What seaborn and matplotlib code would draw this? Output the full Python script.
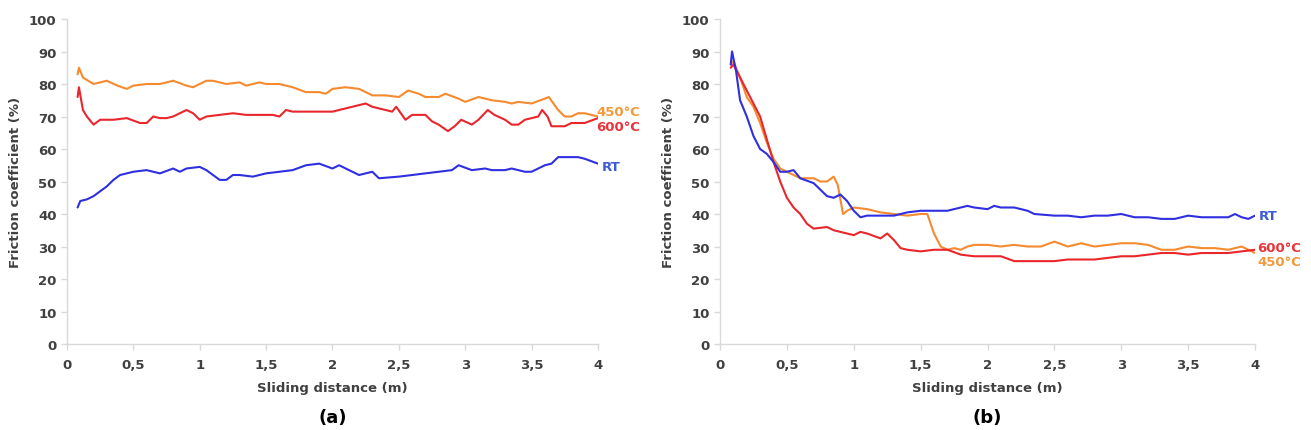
import pandas as pd
import seaborn as sns
import matplotlib.pyplot as plt

sns.set_style("white")
plt.rcParams['font.family'] = ['Liberation Sans Narrow', 'DejaVu Sans']

# panel (a)
a_450_x = [0.08, 0.09, 0.12, 0.2, 0.3, 0.38, 0.45, 0.5, 0.6, 0.7, 0.8, 0.9, 0.95, 1.05, 1.1, 1.2, 1.3,
           1.35, 1.45, 1.5, 1.6, 1.7, 1.8, 1.9, 1.95, 2.0, 2.1, 2.2, 2.3, 2.4, 2.5, 2.57, 2.65, 2.7,
           2.8, 2.85, 2.95, 3.0, 3.1, 3.2, 3.3, 3.35, 3.4, 3.5, 3.6, 3.63, 3.7, 3.75, 3.8, 3.85, 3.9, 4.0]
a_450_y = [83, 85, 82, 80, 81, 79.5, 78.5, 79.5, 80, 80, 81, 79.5, 79, 81, 81, 80, 80.5,
           79.5, 80.5, 80, 80, 79, 77.5, 77.5, 77, 78.5, 79, 78.5, 76.5, 76.5, 76, 78, 77, 76,
           76, 77, 75.5, 74.5, 76, 75, 74.5, 74, 74.5, 74, 75.5, 76, 72, 70, 70, 71, 71, 70]

a_600_x = [0.08, 0.09, 0.12, 0.15, 0.2, 0.25, 0.35, 0.45, 0.55, 0.6, 0.65, 0.7, 0.75, 0.8, 0.9, 0.95,
           1.0, 1.05, 1.15, 1.25, 1.35, 1.45, 1.55, 1.6, 1.65, 1.7, 1.8, 1.9, 2.0, 2.1, 2.2, 2.25,
           2.3, 2.4, 2.45, 2.48, 2.55, 2.6, 2.7, 2.75, 2.8, 2.87, 2.92, 2.97, 3.05, 3.1, 3.17, 3.22,
           3.3, 3.35, 3.4, 3.45, 3.55, 3.58, 3.62, 3.65, 3.75, 3.8, 3.9, 4.0]
a_600_y = [76, 79, 72, 70, 67.5, 69, 69, 69.5, 68, 68, 70, 69.5, 69.5, 70, 72, 71,
           69, 70, 70.5, 71, 70.5, 70.5, 70.5, 70, 72, 71.5, 71.5, 71.5, 71.5, 72.5, 73.5, 74,
           73, 72, 71.5, 73, 69, 70.5, 70.5, 68.5, 67.5, 65.5, 67, 69, 67.5, 69, 72, 70.5,
           69, 67.5, 67.5, 69, 70, 72, 70, 67, 67, 68, 68, 69.5]

a_rt_x = [0.08, 0.1, 0.15, 0.2, 0.25, 0.3, 0.35, 0.4, 0.5, 0.6, 0.7, 0.8, 0.85, 0.9, 1.0, 1.05,
          1.1, 1.15, 1.2, 1.25, 1.3, 1.4, 1.5, 1.6, 1.7, 1.8, 1.9, 2.0, 2.05, 2.15, 2.2, 2.3,
          2.35, 2.5, 2.6, 2.7, 2.8, 2.9, 2.95, 3.05, 3.15, 3.2, 3.3, 3.35, 3.45, 3.5, 3.6, 3.65,
          3.7, 3.8, 3.85, 3.9, 4.0]
a_rt_y = [42, 44, 44.5, 45.5, 47, 48.5, 50.5, 52, 53, 53.5, 52.5, 54, 53, 54, 54.5, 53.5,
          52, 50.5, 50.5, 52, 52, 51.5, 52.5, 53, 53.5, 55, 55.5, 54, 55, 53, 52, 53,
          51, 51.5, 52, 52.5, 53, 53.5, 55, 53.5, 54, 53.5, 53.5, 54, 53, 53, 55, 55.5,
          57.5, 57.5, 57.5, 57, 55.5]

# panel (b)
b_rt_x = [0.08, 0.09, 0.12, 0.15, 0.2, 0.25, 0.3, 0.35, 0.4, 0.45, 0.5, 0.55, 0.6, 0.7, 0.75,
          0.8, 0.85, 0.9, 0.95, 1.0, 1.05, 1.1, 1.2, 1.3, 1.4, 1.5, 1.6, 1.7, 1.8, 1.85, 1.9,
          2.0, 2.05, 2.1, 2.2, 2.3, 2.35, 2.5, 2.6, 2.7, 2.8, 2.9, 3.0, 3.1, 3.2, 3.3, 3.4,
          3.5, 3.6, 3.7, 3.8, 3.85, 3.9, 3.95, 4.0]
b_rt_y = [86, 90, 84, 75, 70, 64, 60, 58.5, 56, 53, 53, 53.5, 51, 49.5, 47.5,
          45.5, 45, 46, 44, 41, 39, 39.5, 39.5, 39.5, 40.5, 41, 41, 41, 42, 42.5, 42,
          41.5, 42.5, 42, 42, 41, 40, 39.5, 39.5, 39, 39.5, 39.5, 40, 39, 39, 38.5, 38.5,
          39.5, 39, 39, 39, 40, 39, 38.5, 39.5]

b_450_x = [0.08, 0.1, 0.15, 0.2, 0.25, 0.3, 0.35, 0.4, 0.45, 0.5, 0.6, 0.7, 0.75, 0.8, 0.85,
           0.88, 0.92, 0.95, 1.0, 1.1, 1.2, 1.3, 1.4, 1.5, 1.55, 1.6, 1.65, 1.7, 1.75, 1.8,
           1.85, 1.9, 2.0, 2.1, 2.2, 2.3, 2.4, 2.5, 2.6, 2.7, 2.8, 2.9, 3.0, 3.1, 3.2, 3.3,
           3.4, 3.5, 3.6, 3.7, 3.8, 3.9, 4.0]
b_450_y = [86, 87, 82, 76, 73, 68, 62, 57, 54, 53, 51, 51, 50, 50, 51.5,
           49, 40, 41, 42, 41.5, 40.5, 40, 39.5, 40, 40, 34, 30, 29, 29.5, 29,
           30, 30.5, 30.5, 30, 30.5, 30, 30, 31.5, 30, 31, 30, 30.5, 31, 31, 30.5, 29,
           29, 30, 29.5, 29.5, 29, 30, 28]

b_600_x = [0.08, 0.1, 0.15, 0.2, 0.25, 0.3, 0.35, 0.4, 0.45, 0.5, 0.55, 0.6, 0.65, 0.7, 0.8,
           0.85, 0.9, 1.0, 1.05, 1.1, 1.2, 1.25, 1.3, 1.35, 1.4, 1.5, 1.6, 1.7, 1.8, 1.9, 2.0,
           2.1, 2.2, 2.3, 2.4, 2.5, 2.6, 2.7, 2.8, 2.9, 3.0, 3.1, 3.2, 3.3, 3.4, 3.5, 3.6,
           3.7, 3.8, 3.9, 4.0]
b_600_y = [85, 86, 82, 78, 74, 70, 63, 56, 50, 45, 42, 40, 37, 35.5, 36,
           35, 34.5, 33.5, 34.5, 34, 32.5, 34, 32, 29.5, 29, 28.5, 29, 29, 27.5, 27, 27,
           27, 25.5, 25.5, 25.5, 25.5, 26, 26, 26, 26.5, 27, 27, 27.5, 28, 28, 27.5, 28,
           28, 28, 28.5, 29]

x_ticks = [0, 0.5, 1, 1.5, 2, 2.5, 3, 3.5, 4]
x_tick_labels = ["0", "0,5", "1", "1,5", "2", "2,5", "3", "3,5", "4"]
y_ticks = [0, 10, 20, 30, 40, 50, 60, 70, 80, 90, 100]

c_orange = "#F58A2E"
c_red = "#E8262B"
c_blue = "#2F2FE0"

fig = plt.figure(figsize=(13.11, 4.31), dpi=100)
ax_a = fig.add_axes([0.0511, 0.1995, 0.4050, 0.7541])
ax_b = fig.add_axes([0.5492, 0.1995, 0.4081, 0.7541])

panels = [
    (ax_a, [(a_450_x, a_450_y, c_orange), (a_600_x, a_600_y, c_red), (a_rt_x, a_rt_y, c_blue)],
     [("450°C", 71.5, "#F39A3C", 4.15), ("600°C", 67.0, "#E8343A", 4.15), ("RT", 54.5, "#3D5BD3", 4.1)], "(a)"),
    (ax_b, [(b_450_x, b_450_y, c_orange), (b_600_x, b_600_y, c_red), (b_rt_x, b_rt_y, c_blue)],
     [("RT", 39.5, "#3D5BD3", 4.1), ("600°C", 29.8, "#E8343A", 4.18), ("450°C", 25.3, "#F39A3C", 4.18)], "(b)"),
]

for ax, lines, labels, tag in panels:
    for xs, ys, col in lines:
        df = pd.DataFrame({"x": xs, "y": ys})
        sns.lineplot(data=df, x="x", y="y", ax=ax, color=col, linewidth=1.5, estimator=None)
    for txt, yv, col, xv in labels:
        ax.text(xv, yv, txt, color=col, fontsize=9.5, fontweight="bold", ha="center", va="center",
                clip_on=False)
    ax.set_xlim(0, 4)
    ax.set_ylim(0, 100)
    ax.set_xticks(x_ticks)
    ax.set_xticklabels(x_tick_labels)
    ax.set_yticks(y_ticks)
    ax.tick_params(axis="both", labelsize=9.5, colors="#D9D9D9", labelcolor="#404040",
                   length=4, width=1, direction="out", bottom=True, left=True)
    ax.tick_params(axis="x", pad=6)
    for lab in ax.get_xticklabels() + ax.get_yticklabels():
        lab.set_fontweight("bold")
    for s in ["top", "right"]:
        ax.spines[s].set_visible(False)
    for s in ["left", "bottom"]:
        ax.spines[s].set_color("#D9D9D9")
        ax.spines[s].set_linewidth(1)
    ax.set_xlabel("Sliding distance (m)", fontsize=9.5, fontweight="bold", color="#404040", labelpad=7)
    ax.set_ylabel("Friction coefficient (%)", fontsize=9.5, fontweight="bold", color="#404040", labelpad=5)
    ax.text(0.5, -0.225, tag, transform=ax.transAxes, fontsize=13, fontweight="bold",
            ha="center", va="center", color="black")

fig.savefig("out.png", dpi=100, facecolor="white")
